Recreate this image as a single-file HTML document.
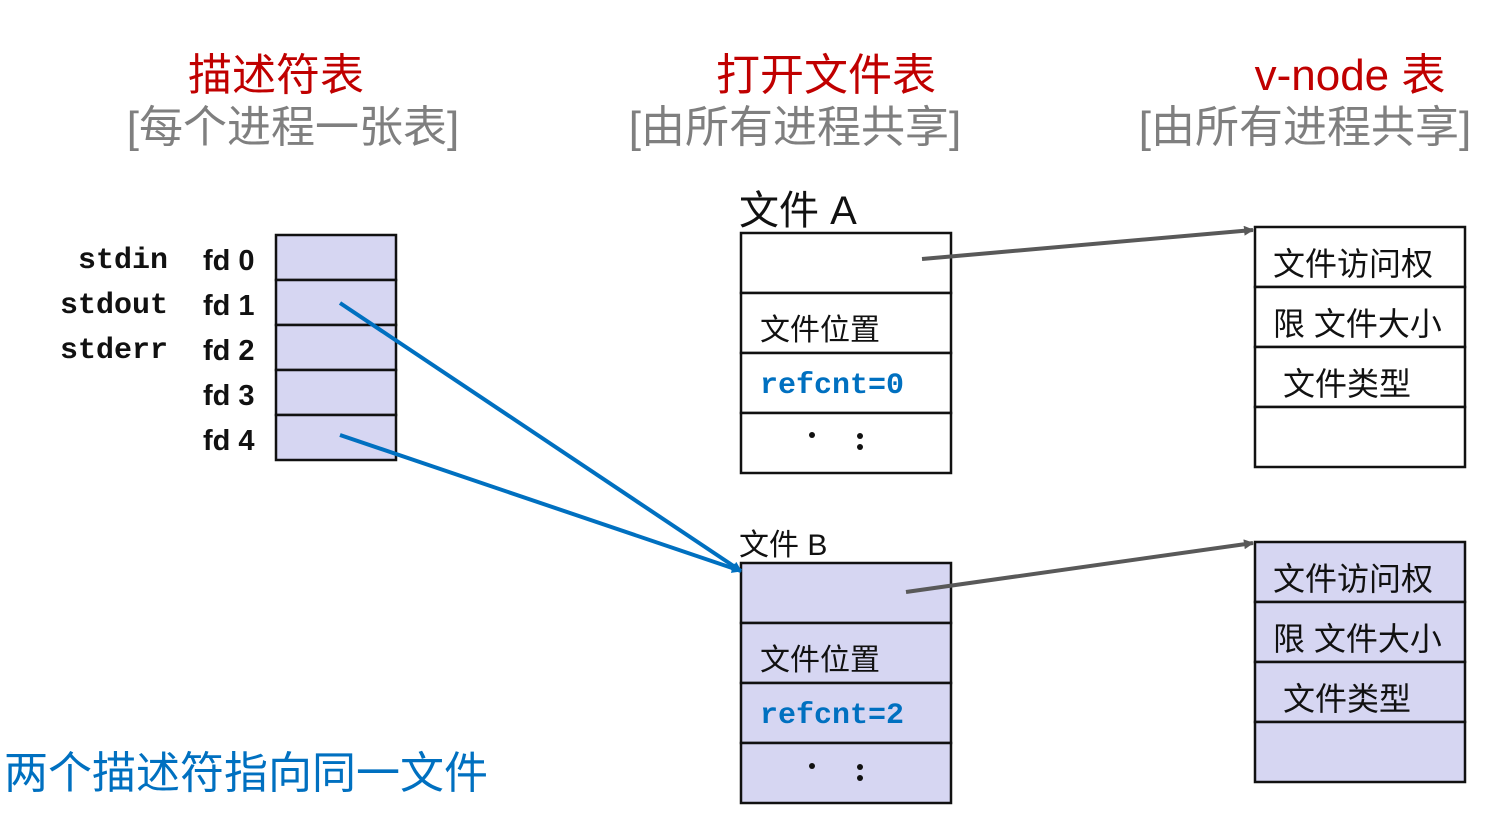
<!DOCTYPE html>
<html><head><meta charset="utf-8"><style>body{margin:0;background:#fff}svg{display:block}</style></head><body>
<svg width="1499" height="817" xmlns="http://www.w3.org/2000/svg" font-family="Liberation Sans, Noto Sans CJK SC, sans-serif">
<defs>
<marker id="ab" markerWidth="10" markerHeight="10" refX="9" refY="5" orient="auto" markerUnits="userSpaceOnUse"><path d="M0,0 L10,5 L0,10 Z" fill="#0070c0"/></marker>
<marker id="ag" markerWidth="10" markerHeight="10" refX="9" refY="5" orient="auto" markerUnits="userSpaceOnUse"><path d="M0,0 L10,5 L0,10 Z" fill="#595959"/></marker>
</defs>
<g font-size="44" text-anchor="middle">
<text x="276" y="90" fill="#c00000">描述符表</text>
<text x="293" y="142" fill="#7f7f7f">[每个进程一张表]</text>
<text x="826" y="90" fill="#c00000">打开文件表</text>
<text x="795" y="142" fill="#7f7f7f">[由所有进程共享]</text>
<text x="1350" y="90" fill="#c00000">v-node 表</text>
<text x="1305" y="142" fill="#7f7f7f">[由所有进程共享]</text>
</g>
<g font-family="Liberation Mono, monospace" font-weight="bold" font-size="30" text-anchor="end" fill="#111">
<text x="168" y="268">stdin</text><text x="168" y="313">stdout</text><text x="168" y="358">stderr</text>
</g>
<g font-weight="bold" font-size="29" fill="#111">
<text x="203" y="270">fd 0</text><text x="203" y="315">fd 1</text><text x="203" y="360">fd 2</text><text x="203" y="405">fd 3</text><text x="203" y="450">fd 4</text>
</g>
<g stroke="#111" stroke-width="2.5" fill="#d6d6f2">
<rect x="276" y="235" width="120" height="45"/><rect x="276" y="280" width="120" height="45"/><rect x="276" y="325" width="120" height="45"/><rect x="276" y="370" width="120" height="45"/><rect x="276" y="415" width="120" height="45"/>
</g>
<text x="739" y="224" font-size="40" fill="#111">文件 A</text>
<g stroke="#111" stroke-width="2.5" fill="#fff">
<rect x="741" y="233" width="210" height="60"/><rect x="741" y="293" width="210" height="60"/><rect x="741" y="353" width="210" height="60"/><rect x="741" y="413" width="210" height="60"/>
</g>
<text x="739" y="555" font-size="30" fill="#111">文件 B</text>
<g stroke="#111" stroke-width="2.5" fill="#d6d6f2">
<rect x="741" y="563" width="210" height="60"/><rect x="741" y="623" width="210" height="60"/><rect x="741" y="683" width="210" height="60"/><rect x="741" y="743" width="210" height="60"/>
</g>
<g font-size="30" fill="#111">
<text x="760" y="340">文件位置</text><text x="760" y="670">文件位置</text>
</g>
<g font-family="Liberation Mono, monospace" font-weight="bold" font-size="30" fill="#0070c0">
<text x="760" y="393">refcnt=0</text><text x="760" y="723">refcnt=2</text>
</g>
<g fill="#111">
<circle cx="812" cy="435" r="3"/><circle cx="860" cy="436" r="3"/><circle cx="860" cy="447" r="3"/>
<circle cx="812" cy="766" r="3"/><circle cx="860" cy="767" r="3"/><circle cx="860" cy="778" r="3"/>
<circle cx="1325" cy="431" r="3"/><circle cx="1373" cy="431" r="3"/><circle cx="1373" cy="442" r="3"/>
<circle cx="1325" cy="745" r="3"/><circle cx="1373" cy="745" r="3"/><circle cx="1373" cy="756" r="3"/>
</g>
<g stroke="#111" stroke-width="2.5" fill="#fff">
<rect x="1255" y="227" width="210" height="60"/><rect x="1255" y="287" width="210" height="60"/><rect x="1255" y="347" width="210" height="60"/><rect x="1255" y="407" width="210" height="60"/>
</g>
<g stroke="#111" stroke-width="2.5" fill="#d6d6f2">
<rect x="1255" y="542" width="210" height="60"/><rect x="1255" y="602" width="210" height="60"/><rect x="1255" y="662" width="210" height="60"/><rect x="1255" y="722" width="210" height="60"/>
</g>
<g font-size="32" fill="#111">
<text x="1273" y="275">文件访问权</text><text x="1273" y="335">限 文件大小</text><text x="1283" y="395">文件类型</text>
<text x="1273" y="590">文件访问权</text><text x="1273" y="650">限 文件大小</text><text x="1283" y="710">文件类型</text>
</g>
<g stroke="#0070c0" stroke-width="4" fill="none">
<line x1="340" y1="303" x2="741" y2="571" marker-end="url(#ab)"/>
<line x1="340" y1="435" x2="741" y2="571" marker-end="url(#ab)"/>
</g>
<g stroke="#595959" stroke-width="4" fill="none">
<line x1="922" y1="259" x2="1253" y2="230" marker-end="url(#ag)"/>
<line x1="906" y1="592" x2="1253" y2="543" marker-end="url(#ag)"/>
</g>
<text x="4" y="788" font-size="44" fill="#0070c0">两个描述符指向同一文件</text>
</svg>
</body></html>
